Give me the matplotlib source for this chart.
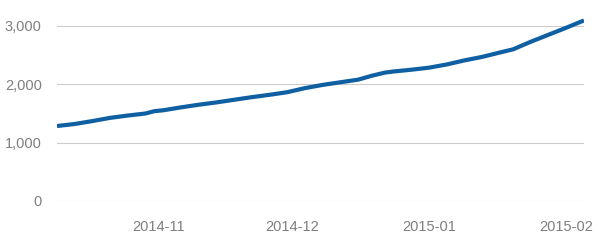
import matplotlib
matplotlib.use("Agg")
import matplotlib.pyplot as plt
import matplotlib.dates as mdates
import numpy as np

dates = np.array([
    '2014-10-09', '2014-10-13', '2014-10-17', '2014-10-21', '2014-10-25',
    '2014-10-29', '2014-10-31', '2014-11-02', '2014-11-06', '2014-11-10',
    '2014-11-14', '2014-11-18', '2014-11-22', '2014-11-26', '2014-11-30',
    '2014-12-04', '2014-12-08', '2014-12-12', '2014-12-16', '2014-12-19',
    '2014-12-22', '2014-12-24', '2014-12-28', '2015-01-01', '2015-01-05',
    '2015-01-09', '2015-01-13', '2015-01-17', '2015-01-20', '2015-01-24',
    '2015-01-28', '2015-02-01', '2015-02-05',
], dtype='datetime64[D]')
values = [
    1285, 1320, 1370, 1425, 1465,
    1500, 1540, 1555, 1605, 1650,
    1690, 1735, 1780, 1820, 1865,
    1935, 1990, 2035, 2080, 2145,
    2200, 2220, 2250, 2285, 2340,
    2410, 2470, 2545, 2600, 2730,
    2850, 2970, 3095,
]
y_ticks = [0, 1000, 2000, 3000]

plt.rcParams['font.family'] = ['Liberation Sans', 'DejaVu Sans']

fig = plt.figure(figsize=(6.04, 2.42), dpi=100)
ax = fig.add_axes([57 / 604, 1 - 201 / 242, (584 - 57) / 604, (201 - 14.3) / 242])

ax.plot(dates, values, color='#0f5fa3', linewidth=3.0, solid_capstyle='butt')

ax.set_xlim(dates[0], dates[-1])
ax.set_ylim(0, 3200)
ax.set_yticks(y_ticks)
ax.yaxis.set_major_formatter(matplotlib.ticker.FuncFormatter(lambda v, p: f'{int(v):,}'))
ax.xaxis.set_major_locator(mdates.MonthLocator())
ax.xaxis.set_major_formatter(mdates.DateFormatter('%Y-%m'))

ax.grid(axis='y', color='#cccccc', linewidth=0.8)
ax.set_axisbelow(True)
for s in ax.spines.values():
    s.set_visible(False)
ax.tick_params(axis='both', length=0, labelsize=10.5, labelcolor='#7f7f7f')
ax.tick_params(axis='x', pad=14)
ax.tick_params(axis='y', pad=11)

fig.savefig('out.png', dpi=100)
